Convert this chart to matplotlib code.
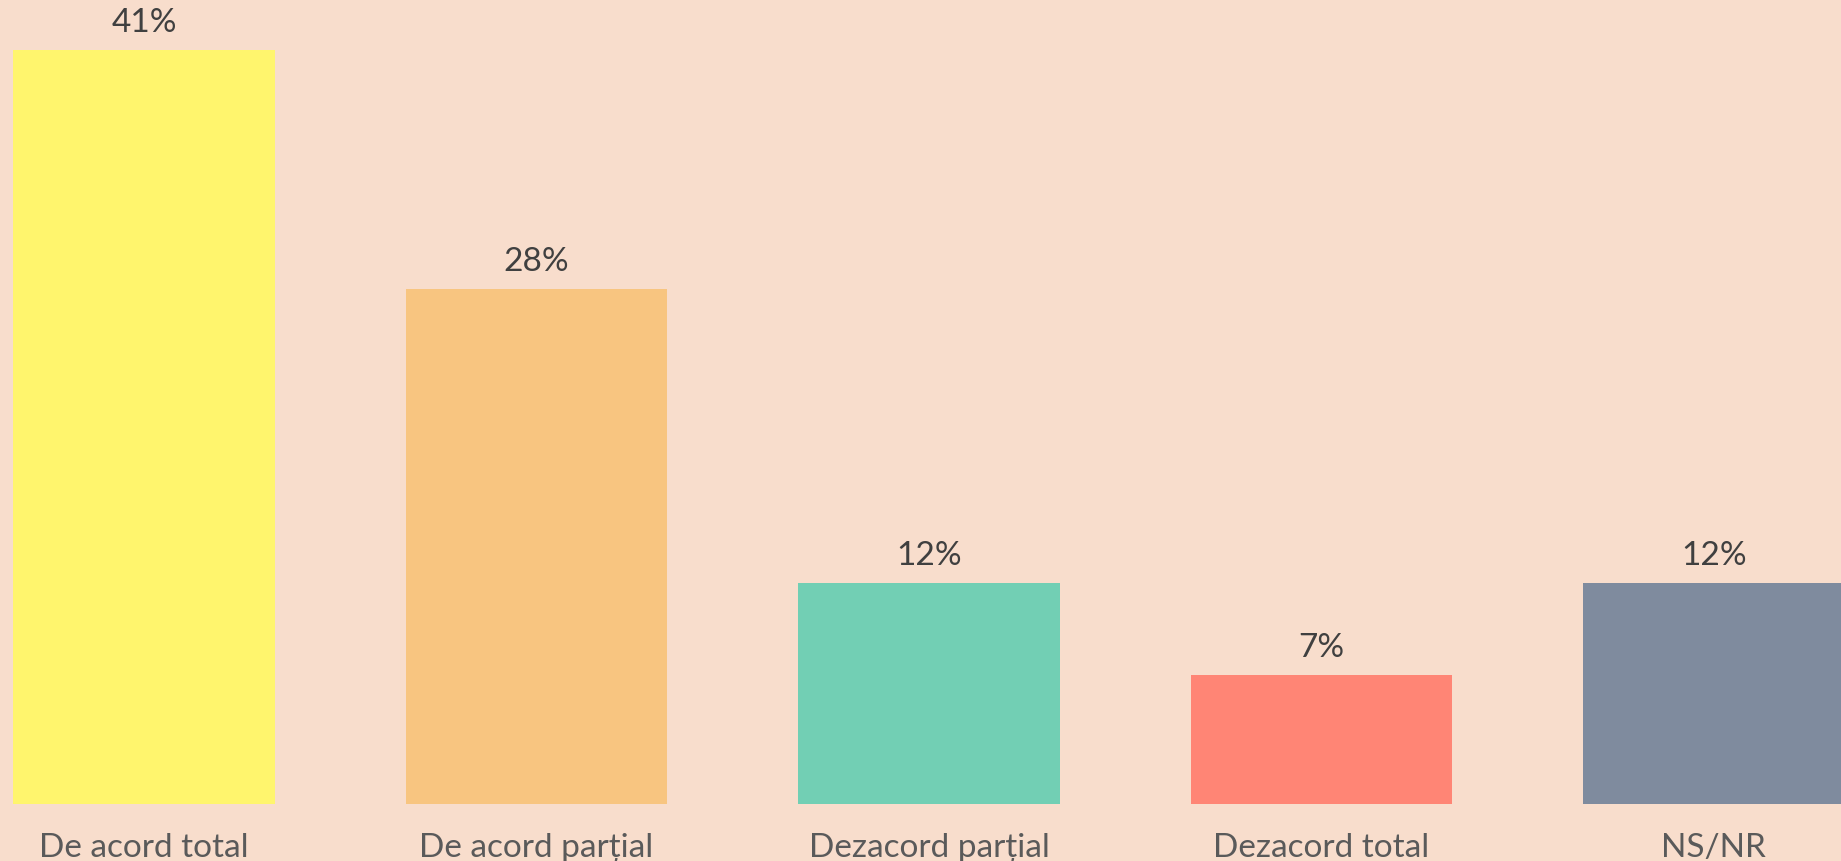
import matplotlib
matplotlib.use("Agg")
import matplotlib.pyplot as plt

categories = ["De acord total", "De acord parțial", "Dezacord parțial", "Dezacord total", "NS/NR"]
values = [41, 28, 12, 7, 12]
value_labels = ["41%", "28%", "12%", "7%", "12%"]
colors = ["#FFF56D", "#F8C580", "#72CFB4", "#FF8575", "#7F8B9E"]
bg = "#F8DDCC"

plt.rcParams['font.family'] = ['Lato', 'DejaVu Sans']

fig = plt.figure(figsize=(18.41, 8.62), dpi=100, facecolor=bg)
ax = fig.add_axes([0, (862 - 805) / 862, 1, 805 / 862])
ax.set_facecolor(bg)

x = list(range(len(categories)))
ax.bar(x, values, width=0.667, color=colors)
ax.set_xlim(-0.367, 4.324)
ax.set_ylim(0, 805 / 18.39)

for xi, v, lab in zip(x, values, value_labels):
    ax.annotate(lab, (xi, v), xytext=(0, 19), textcoords='offset pixels',
                ha='center', va='baseline', fontsize=24, color='#404040')

for xi, cat in zip(x, categories):
    ax.annotate(cat, (xi, 0), xycoords=('data', 'axes fraction'), xytext=(0, -52),
                textcoords='offset pixels', ha='center', va='baseline',
                fontsize=24, color='#5a5a5a', annotation_clip=False)

ax.axis('off')
fig.savefig("out.png", dpi=100, facecolor=bg)
